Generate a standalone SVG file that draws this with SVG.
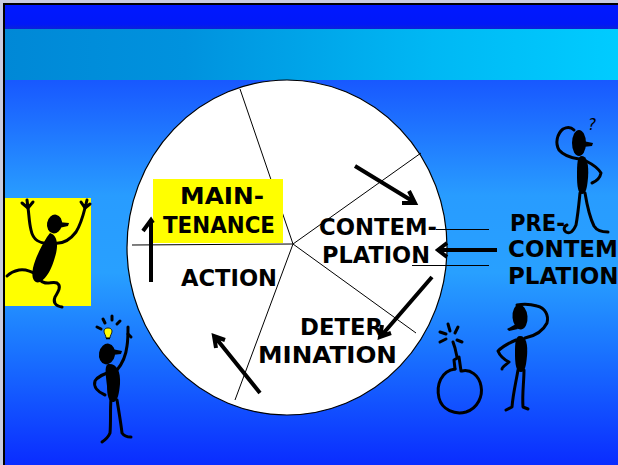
<svg xmlns="http://www.w3.org/2000/svg" width="618" height="465" viewBox="0 0 618 465">
  <defs>
    <linearGradient id="bgMain" x1="0" y1="80" x2="0" y2="465" gradientUnits="userSpaceOnUse">
      <stop offset="0" stop-color="#1858ff"/>
      <stop offset="0.3" stop-color="#289cff"/>
      <stop offset="0.5" stop-color="#28a0ff"/>
      <stop offset="0.7" stop-color="#1a74ff"/>
      <stop offset="1" stop-color="#0a2cff"/>
    </linearGradient>
    <linearGradient id="bandTop" x1="0" y1="5" x2="0" y2="29" gradientUnits="userSpaceOnUse">
      <stop offset="0" stop-color="#0018ff"/>
      <stop offset="0.8" stop-color="#0018f8"/>
      <stop offset="1" stop-color="#0a22d8"/>
    </linearGradient>
    <linearGradient id="bandCyan" x1="0" y1="0" x2="618" y2="0" gradientUnits="userSpaceOnUse">
      <stop offset="0" stop-color="#0088d6"/>
      <stop offset="0.3" stop-color="#0092de"/>
      <stop offset="0.7" stop-color="#00b8f4"/>
      <stop offset="1" stop-color="#00ccff"/>
    </linearGradient>
    <style>
      .lbl { font-family: "Comic Sans MS", "DejaVu Sans", sans-serif; font-weight: bold; font-size: 23px; fill: #000; }
      .thin { stroke: #000; stroke-width: 1; fill: none; }
      .arrow { stroke: #000; stroke-width: 4; fill: none; stroke-linecap: butt; stroke-linejoin: miter; }
      .limb { stroke: #000; stroke-width: 3; fill: none; stroke-linecap: round; stroke-linejoin: round; }
      .blob { fill: #000; stroke: none; }
    </style>
  </defs>

  <!-- slide frame and background -->
  <rect x="0" y="0" width="618" height="465" fill="#c8cce0"/>
  <rect x="3" y="3" width="615" height="462" fill="#000"/>
  <rect x="5" y="5" width="613" height="460" fill="url(#bgMain)"/>
  <rect x="5" y="5" width="613" height="24" fill="url(#bandTop)"/>
  <rect x="5" y="29" width="613" height="51" fill="url(#bandCyan)"/>

  <!-- the cycle wheel -->
  <g id="wheel">
    <ellipse cx="287" cy="247.5" rx="160" ry="167.5" fill="#fff" stroke="#000" stroke-width="1.2"/>
    <path class="thin" d="M293 244 L132 245 M293 244 L240 89 M293 244 L421 153 M293 244 L416 333 M293 244 L235 400"/>
  </g>

  <!-- stage labels -->
  <g id="maintenance">
    <rect x="153" y="179" width="130" height="64" fill="#ffff00"/>
    <text class="lbl" x="180" y="204" textLength="84" lengthAdjust="spacingAndGlyphs">MAIN-</text>
    <text class="lbl" x="163" y="233" textLength="112" lengthAdjust="spacingAndGlyphs">TENANCE</text>
  </g>
  <g id="contemplation">
    <text class="lbl" x="319" y="235" textLength="118" lengthAdjust="spacingAndGlyphs">CONTEM-</text>
    <text class="lbl" x="322" y="263" textLength="108" lengthAdjust="spacingAndGlyphs">PLATION</text>
  </g>
  <g id="action">
    <text class="lbl" x="181" y="286" textLength="96" lengthAdjust="spacingAndGlyphs">ACTION</text>
  </g>
  <g id="determination">
    <text class="lbl" x="300" y="335" textLength="83" lengthAdjust="spacingAndGlyphs">DETER</text>
    <text class="lbl" x="258" y="363" textLength="139" lengthAdjust="spacingAndGlyphs">MINATION</text>
  </g>
  <g id="precontemplation">
    <text class="lbl" x="510" y="231" textLength="55" lengthAdjust="spacingAndGlyphs">PRE-</text>
    <text class="lbl" x="508" y="257">CONTEM</text>
    <text class="lbl" x="508" y="284">PLATION</text>
  </g>

  <!-- arrows between stages -->
  <g id="connectors">
    <path class="thin" d="M436 229.5 L489 229.5 M412 265.5 L489 265.5"/>
    <path class="arrow" d="M497 250 L438 250 M447 243 L438 250 L447 257"/>
    <path class="arrow" d="M355 166 L414 202 M409 191 L415 203 L402 203"/>
    <path class="arrow" d="M432 277 L381 336 M391 333 L380 337 L382 325"/>
    <path class="arrow" d="M260 393 L215 337 M216 348 L214 336 L225 340"/>
    <path class="arrow" d="M151 282 L151 221 M143 231 L151 220 L153 223"/>
  </g>

  <!-- cheering figure on yellow card -->
  <g id="figure-cheer">
    <rect x="5" y="198" width="86" height="108" fill="#ffff00"/>
    <ellipse class="blob" cx="54.5" cy="224" rx="7.5" ry="9.5" transform="rotate(10 54.5 224)"/>
    <path class="blob" d="M58 222 L69 223 L68 226 L59 228 Z"/>
    <path class="blob" d="M50 233 C57 235 59 244 55 257 C52 268 47 278 40 282 C34 284 31 278 33 268 C36 256 42 245 47 237 Z"/>
    <path class="limb" d="M49 243 C40 244 33 240 31 230 C29 222 29 214 28 208"/>
    <path class="limb" d="M28 208 L22 203 M28 208 L27 200 M28 208 L33 202"/>
    <path class="limb" d="M54 243 C62 244 70 240 76 232 C81 224 83 216 85 208"/>
    <path class="limb" d="M85 208 L81 202 M85 208 L87 200 M85 208 L90 204"/>
    <path class="limb" d="M37 275 C31 271 25 269 19 270 C14 271 10 273 7 276"/>
    <path class="limb" d="M40 280 C45 286 52 281 57 283 C62 286 58 292 55 297 C53 302 55 306 62 307"/>
  </g>

  <!-- figure with a bright idea -->
  <g id="figure-idea">
    <path d="M104 331 C104 327 112 327 112 331 C112 334 110 335 110 338 L106 338 C106 335 104 334 104 331 Z" fill="#ffff00" stroke="#000" stroke-width="0.8"/>
    <path d="M106 338.5 L110 338.5" stroke="#000" stroke-width="1.5"/>
    <path class="limb" stroke-width="1.5" d="M97 327 L101 329 M103 319 L105 323 M112 316 L112 320 M120 321 L117 324"/>
    <ellipse class="blob" cx="107" cy="354" rx="8" ry="10.5" transform="rotate(10 107 354)"/>
    <path class="blob" d="M112 349 L122 351 L121 354 L112 355 Z"/>
    <path class="blob" d="M108 364 C116 363 121 370 120 384 C119 394 118 400 114 402 C109 403 107 396 107 386 C106 376 104 366 108 364 Z"/>
    <path class="limb" d="M117 370 C122 364 126 355 127 346 C128 340 128 334 128 327"/>
    <path class="limb" stroke-width="2" d="M128 334 L131 337"/>
    <path class="limb" d="M110 372 C104 374 98 376 95 381 C93 387 98 392 105 395"/>
    <path class="limb" d="M111 399 C110 410 111 422 110 433 C108 438 105 440 102 442"/>
    <path class="limb" d="M117 400 C119 412 121 424 122 433 C124 436 127 437 131 437"/>
  </g>

  <!-- bomb with lit fuse -->
  <g id="bomb">
    <path class="limb" stroke-width="2.5" d="M455 369 C441 371 436 385 439 398 C442 410 455 415 466 412 C478 408 483 396 481 386 C479 375 470 369 462 371"/>
    <path class="limb" stroke-width="2.5" d="M455 369 L454 360 L459 357 L461 371 M457 357 L455 348 L453 342"/>
    <path class="limb" stroke-width="2" d="M440 332 L446 334 M448 324 L450 331 M458 327 L455 333 M462 342 L457 340 M440 342 L446 339"/>
  </g>

  <!-- puzzled figure -->
  <g id="figure-puzzled">
    <ellipse class="blob" cx="520" cy="317" rx="7.5" ry="12.5" transform="rotate(-5 520 317)"/>
    <path class="blob" d="M516 324 L507 329 L509 331 L518 329 Z"/>
    <path class="blob" d="M520 336 C526 336 528 344 527 356 C526 366 525 372 521 372 C516 372 515 364 515 354 C515 344 515 336 520 336 Z"/>
    <path class="limb" d="M525 338 C535 336 543 331 547 323 C549 315 545 308 537 306 C530 304 523 304 517 305"/>
    <path class="limb" d="M516 340 C509 343 502 347 498 351 C500 356 505 360 509 362 C506 365 502 367 502 369"/>
    <path class="limb" d="M518 370 C516 382 513 394 512 407 L506 410"/>
    <path class="limb" d="M524 370 C524 382 522 394 523 407 L528 409"/>
  </g>

  <!-- questioning figure -->
  <g id="figure-question">
    <text x="588" y="130" font-family="Comic Sans MS, DejaVu Sans, sans-serif" font-style="italic" font-size="15" fill="#000">?</text>
    <ellipse class="blob" cx="579" cy="143" rx="7" ry="13"/>
    <path class="blob" d="M583 141 L593 143 L592 146 L583 147 Z"/>
    <path class="blob" d="M582 156 C587 156 589 165 588 178 C587 188 586 194 582 194 C578 194 577 186 577 176 C577 164 577 156 582 156 Z"/>
    <path class="limb" d="M579 159 C572 158 564 156 559 150 C555 143 557 134 563 129 C567 127 571 127 574 130"/>
    <path class="limb" d="M586 161 C592 164 598 168 601 173 C600 178 597 181 592 183"/>
    <path class="limb" d="M580 193 C579 203 578 214 576 225 C573 232 570 234 566 232 C563 230 564 226 567 225"/>
    <path class="limb" d="M585 193 C587 205 589 216 594 226 C597 231 602 232 608 232"/>
  </g>
</svg>
